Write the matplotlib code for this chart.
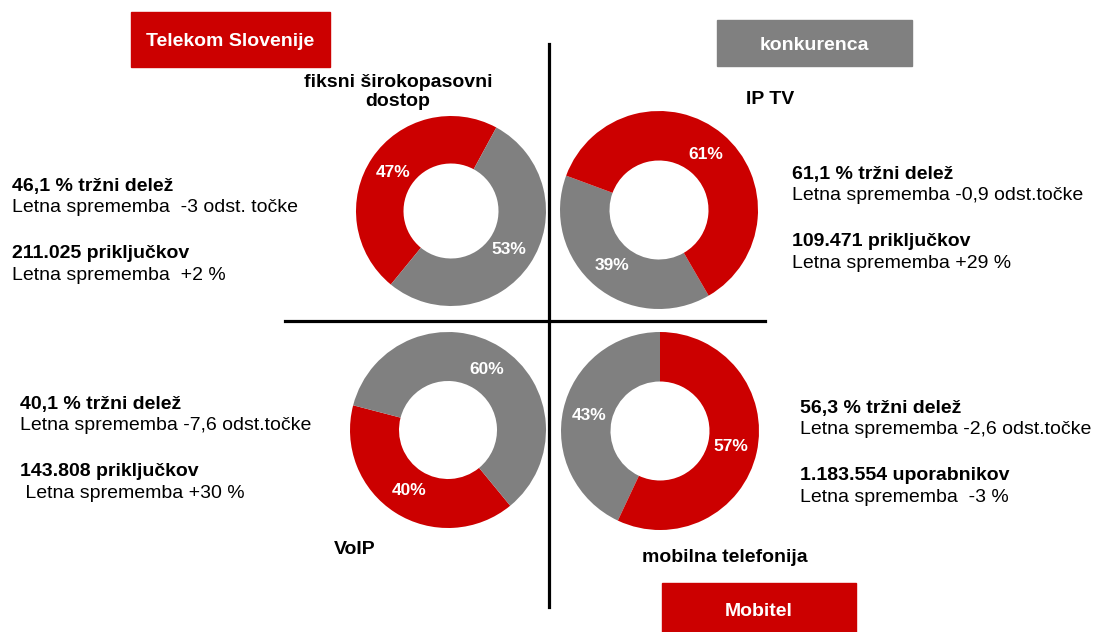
import matplotlib
matplotlib.use('Agg')
import matplotlib.pyplot as plt
from matplotlib.patches import Rectangle

plt.rcParams['font.family'] = ['Liberation Sans', 'DejaVu Sans']

RED = '#cc0000'
GRAY = '#808080'

# podatki
kategorije = ['fiksni širokopasovni\ndostop', 'IP TV', 'VoIP', 'mobilna telefonija']
delez_ts = [47, 61, 40, 57]
delez_konk = [53, 39, 60, 43]
rdeci_prvi = [True, False, True, False]
zacetni_kot = [61.5, 159.7, 165.4, 90]

naslovi = ['46,1 % tržni delež', '61,1 % tržni delež', '40,1 % tržni delež', '56,3 % tržni delež']
spremembe = ['Letna sprememba  -3 odst. točke', 'Letna sprememba -0,9 odst.točke',
             'Letna sprememba -7,6 odst.točke', 'Letna sprememba -2,6 odst.točke']
stevila = ['211.025 priključkov', '109.471 priključkov', '143.808 priključkov', '1.183.554 uporabnikov']
spremembe2 = ['Letna sprememba  +2 %', 'Letna sprememba +29 %',
              ' Letna sprememba +30 %', 'Letna sprememba  -3 %']

W, H = 1094, 632
fig = plt.figure(figsize=(W / 100, H / 100), dpi=100)

# ozadje v pikslih
bg = fig.add_axes([0, 0, 1, 1])
bg.set_xlim(0, W)
bg.set_ylim(H, 0)
bg.axis('off')

FS = 14

# kolobarji
centri = [(451, 211, 95), (659, 210, 99), (448, 430, 98), (660, 431, 99)]
for i, (cx, cy, R) in enumerate(centri):
    ax = fig.add_axes([(cx - R) / W, 1 - (cy + R) / H, 2 * R / W, 2 * R / H])
    if rdeci_prvi[i]:
        vals = [delez_ts[i], delez_konk[i]]
        cols = [RED, GRAY]
    else:
        vals = [delez_konk[i], delez_ts[i]]
        cols = [GRAY, RED]
    ax.pie(vals, colors=cols, startangle=zacetni_kot[i], radius=1,
           wedgeprops=dict(width=0.5, edgecolor='none'),
           autopct='%.0f%%', pctdistance=0.73,
           textprops=dict(color='white', fontsize=12.5, fontweight='bold'))
    ax.set_xlim(-1, 1)
    ax.set_ylim(-1, 1)

# crte
bg.plot([549, 549], [44, 607], color='black', lw=2.3)
bg.plot([285, 765], [321, 321], color='black', lw=2.3)

# okvirji
bg.add_patch(Rectangle((131, 12), 199, 55, color=RED))
bg.text(230, 41, 'Telekom Slovenije', color='white', fontsize=FS, fontweight='bold',
        ha='center', va='center')
bg.add_patch(Rectangle((717, 20), 195, 46, color=GRAY))
bg.text(814, 46, 'konkurenca', color='white', fontsize=FS, fontweight='bold',
        ha='center', va='center')
bg.add_patch(Rectangle((662, 583), 194, 52, color=RED))
bg.text(759, 611, 'Mobitel', color='white', fontsize=FS, fontweight='bold',
        ha='center', va='center')

# naslovi kategorij
bg.text(398, 92, kategorije[0], fontsize=FS, fontweight='bold', ha='center', va='center',
        linespacing=1.2)
bg.text(770, 100, kategorije[1], fontsize=FS, fontweight='bold', ha='center', va='center')
bg.text(355, 549, kategorije[2], fontsize=FS, fontweight='bold', ha='center', va='center')
bg.text(642, 557, kategorije[3], fontsize=FS, fontweight='bold', ha='left', va='center')

# bloki besedila
bloki = [(12, 186), (792, 175), (20, 404), (800, 409)]
for i, (x, y) in enumerate(bloki):
    bg.text(x, y, naslovi[i], fontsize=FS, fontweight='bold', va='center')
    bg.text(x, y + 21, spremembe[i], fontsize=FS, va='center')
    bg.text(x, y + 67, stevila[i], fontsize=FS, fontweight='bold', va='center')
    bg.text(x, y + 89, spremembe2[i], fontsize=FS, va='center')

fig.savefig('out.png', dpi=100)
